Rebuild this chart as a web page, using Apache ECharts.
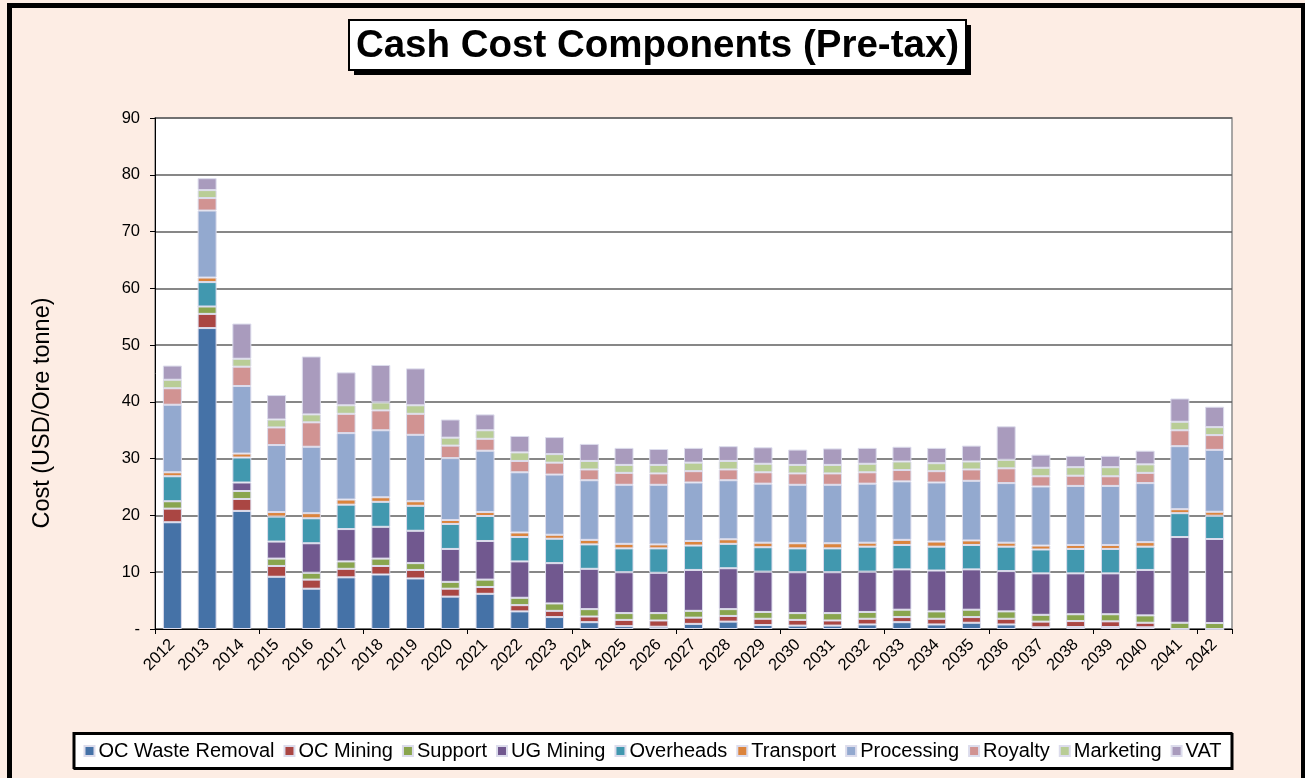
<!DOCTYPE html>
<html>
<head>
<meta charset="utf-8">
<title>Cash Cost Components (Pre-tax)</title>
<script src="https://cdn.jsdelivr.net/npm/echarts@6/dist/echarts.min.js"></script>
<style>
  html, body { margin: 0; padding: 0; background: #fdede4; }
  #chart { width: 1305px; height: 778px; }
</style>
</head>
<body>
<div id="chart"></div>
<script>
// Years on the category axis
const years = ['2012','2013','2014','2015','2016','2017','2018','2019','2020','2021',
  '2022','2023','2024','2025','2026','2027','2028','2029','2030','2031',
  '2032','2033','2034','2035','2036','2037','2038','2039','2040','2041','2042'];

// Cost components, USD per ore tonne (stacked bottom to top)
const ocWasteRemoval = [18.8, 53.0, 20.8, 9.2, 7.1, 9.1, 9.6, 8.9, 5.7, 6.2, 3.1, 2.1, 1.2, 0.5, 0.4, 0.9, 1.3, 0.7, 0.6, 0.6, 0.8, 1.2, 0.8, 1.1, 0.8, 0.3, 0.35, 0.35, 0.3, 0, 0];
const ocMining = [2.4, 2.5, 2.1, 1.9, 1.6, 1.5, 1.5, 1.5, 1.4, 1.2, 1.1, 1.1, 1.0, 1.1, 1.1, 1.1, 1.0, 1.1, 1.0, 0.9, 1.0, 0.9, 1.0, 1.0, 1.0, 1.0, 1.05, 1.0, 0.8, 0, 0];
const support = [1.3, 1.3, 1.4, 1.3, 1.2, 1.3, 1.3, 1.2, 1.2, 1.3, 1.3, 1.3, 1.3, 1.2, 1.3, 1.2, 1.2, 1.2, 1.2, 1.3, 1.2, 1.3, 1.3, 1.3, 1.3, 1.2, 1.2, 1.25, 1.3, 1.1, 1.05];
const ugMining = [0, 0, 1.5, 3.0, 5.2, 5.7, 5.6, 5.7, 5.8, 6.8, 6.4, 7.1, 7.1, 7.2, 7.1, 7.2, 7.2, 7.1, 7.2, 7.2, 7.1, 7.1, 7.2, 7.1, 7.1, 7.3, 7.2, 7.2, 8.0, 15.1, 14.8];
const overheads = [4.4, 4.3, 4.4, 4.4, 4.4, 4.3, 4.4, 4.4, 4.4, 4.4, 4.3, 4.3, 4.3, 4.2, 4.3, 4.3, 4.3, 4.3, 4.2, 4.2, 4.4, 4.3, 4.2, 4.3, 4.3, 4.2, 4.3, 4.3, 4.1, 4.2, 4.1];
const transport = [0.7, 0.8, 0.7, 0.8, 0.9, 0.9, 0.8, 0.8, 0.7, 0.7, 0.8, 0.7, 0.8, 0.8, 0.7, 0.8, 0.8, 0.8, 0.9, 0.9, 0.7, 0.9, 0.9, 0.8, 0.7, 0.7, 0.7, 0.7, 0.8, 0.7, 0.7];
const processing = [11.9, 11.8, 11.9, 11.8, 11.7, 11.7, 11.8, 11.7, 10.9, 10.8, 10.6, 10.6, 10.5, 10.4, 10.5, 10.3, 10.4, 10.4, 10.3, 10.3, 10.4, 10.3, 10.4, 10.5, 10.5, 10.4, 10.4, 10.4, 10.4, 11.1, 10.9];
const royalty = [2.9, 2.2, 3.4, 3.1, 4.3, 3.4, 3.5, 3.7, 2.2, 2.1, 2.0, 2.1, 1.9, 2.1, 2.0, 2.0, 1.9, 2.0, 2.0, 2.0, 2.0, 2.0, 2.0, 2.0, 2.6, 1.8, 1.8, 1.7, 1.8, 2.8, 2.6];
const marketing = [1.5, 1.4, 1.4, 1.4, 1.4, 1.5, 1.4, 1.5, 1.4, 1.5, 1.5, 1.5, 1.5, 1.4, 1.5, 1.5, 1.5, 1.5, 1.5, 1.5, 1.5, 1.5, 1.4, 1.4, 1.5, 1.5, 1.5, 1.6, 1.5, 1.5, 1.4];
const vat = [2.5, 2.1, 6.2, 4.3, 10.2, 5.8, 6.6, 6.5, 3.2, 2.8, 2.9, 3.0, 3.0, 3.0, 2.8, 2.6, 2.6, 2.9, 2.7, 2.9, 2.8, 2.6, 2.7, 2.8, 5.9, 2.3, 2.0, 2.0, 2.4, 4.1, 3.6];

const seriesNames = ['OC Waste Removal', 'OC Mining', 'Support', 'UG Mining', 'Overheads',
  'Transport', 'Processing', 'Royalty', 'Marketing', 'VAT'];
const seriesData = [ocWasteRemoval, ocMining, support, ugMining, overheads,
  transport, processing, royalty, marketing, vat];
const seriesColors = ['#4572a7', '#aa4643', '#89a54e', '#71588f', '#4198af',
  '#db843d', '#93a9cf', '#d19392', '#b9cd96', '#a99bbd'];

const FONT = '"Liberation Sans", Arial, sans-serif';

const chart = echarts.init(document.getElementById('chart'), null, { renderer: 'canvas' });

const series = seriesNames.map((name, i) => ({
  name: name,
  type: 'bar',
  stack: 'cost',
  barWidth: 19,
  data: seriesData[i],
  itemStyle: { color: seriesColors[i], borderColor: '#dcdcec', borderWidth: 1 },
  emphasis: { disabled: true }
}));

chart.setOption({
  backgroundColor: '#fdede4',
  animation: false,
  textStyle: { fontFamily: FONT },
  grid: {
    left: 155, right: 73, top: 118, bottom: 149,
    show: true, backgroundColor: '#ffffff', borderColor: '#8c8c8c', borderWidth: 1.5
  },
  legend: {
    data: seriesNames,
    top: 733,
    left: 'center',
    itemWidth: 10,
    itemHeight: 10,
    itemGap: 9,
    icon: 'rect',
    backgroundColor: '#ffffff',
    borderColor: '#000000',
    borderWidth: 2,
    borderRadius: 0,
    padding: [8, 10, 7, 10],
    shadowColor: '#000000',
    shadowOffsetX: 1,
    shadowOffsetY: 1,
    textStyle: { fontFamily: FONT, fontSize: 20, color: '#000000', padding: [0, 0, 0, -1] }
  },
  xAxis: {
    type: 'category',
    data: years,
    axisLine: { lineStyle: { color: '#000000', width: 1 } },
    axisTick: { show: true, interval: 2, length: 5, lineStyle: { color: '#000000' } },
    axisLabel: { interval: 0, rotate: 45, fontSize: 16.5, color: '#000000', fontFamily: FONT, margin: 13 },
    splitLine: { show: false }
  },
  yAxis: {
    type: 'value',
    min: 0, max: 90, interval: 10,
    axisLine: { show: true, lineStyle: { color: '#000000', width: 1 } },
    axisTick: { show: true, length: 5, lineStyle: { color: '#000000' } },
    axisLabel: {
      fontSize: 16.5, color: '#000000', fontFamily: FONT, margin: 15,
      formatter: v => (v === 0 ? '-' : String(v))
    },
    splitLine: { lineStyle: { color: '#5f5f5f', width: 1.5 } }
  },
  graphic: [
    // outer frame
    {
      type: 'rect', silent: true, z: 100,
      shape: { x: 9.5, y: 5.5, width: 1294, height: 800 },
      style: { fill: 'none', stroke: '#000000', lineWidth: 5 }
    },
    // title box: shadow, box, text
    {
      type: 'rect', silent: true,
      shape: { x: 354, y: 25, width: 617, height: 50 },
      style: { fill: '#000000' }
    },
    {
      type: 'rect', silent: true,
      shape: { x: 349, y: 20, width: 617, height: 50 },
      style: { fill: '#ffffff', stroke: '#000000', lineWidth: 2 }
    },
    {
      type: 'text', silent: true,
      x: 657.5, y: 46,
      style: {
        text: 'Cash Cost Components (Pre-tax)',
        font: 'bold 38.5px ' + FONT,
        fill: '#000000',
        align: 'center',
        verticalAlign: 'middle'
      }
    },
    // y axis title
    {
      type: 'text', silent: true,
      x: 43, y: 413, rotation: Math.PI / 2,
      style: {
        text: 'Cost (USD/Ore tonne)',
        font: '23.5px ' + FONT,
        fill: '#000000',
        align: 'center',
        verticalAlign: 'middle'
      }
    }
  ],
  series: series
});
</script>
</body>
</html>
